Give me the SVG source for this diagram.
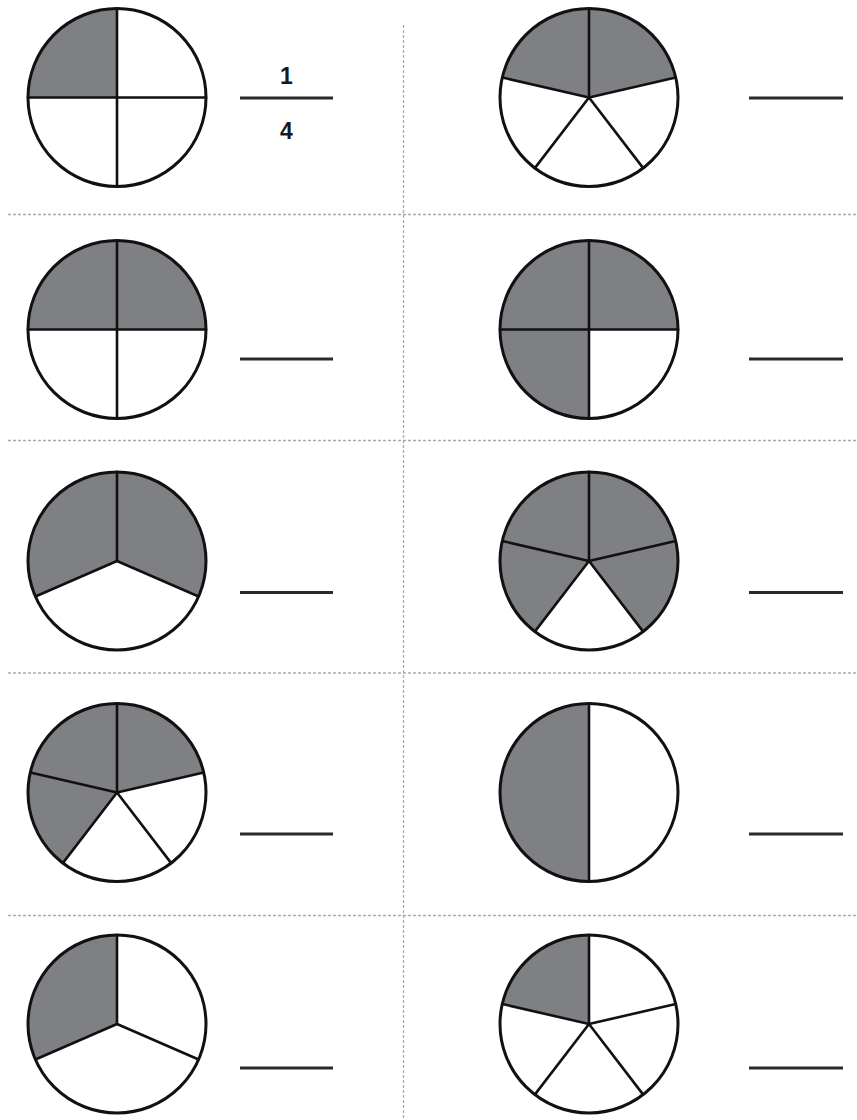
<svg xmlns="http://www.w3.org/2000/svg" width="857" height="1120" viewBox="0 0 857 1120">
<style>
.bg{fill:#fff}
.sh{fill:#7f8084;stroke:none}
.rim{fill:none;stroke:#111;stroke-width:3}
.sp{stroke:#111;stroke-width:2.6;stroke-linecap:round}
.ans{stroke:#2a2a2a;stroke-width:3}
.grid{stroke:#aaa;stroke-width:1.3;stroke-dasharray:3 2;fill:none}
.num{font-family:"Liberation Sans",Arial,sans-serif;font-weight:bold;font-size:23px;fill:#1a1a1a;text-anchor:middle}
</style>
<defs>
<circle id="disc" r="89" class="bg"/>
<circle id="ring" r="89" class="rim"/>
<g id="quarterSpokes" class="sp"><line x1="-89" y1="0" x2="89" y2="0"/><line x1="0" y1="-89" x2="0" y2="89"/></g>
<g id="thirdSpokes" class="sp"><line x1="0" y1="0" x2="0" y2="-89"/><line x1="0" y1="0" x2="81.6" y2="35.5"/><line x1="0" y1="0" x2="-81.6" y2="35.5"/></g>
<g id="fifthSpokes" class="sp"><line x1="0" y1="0" x2="0" y2="-89"/><line x1="0" y1="0" x2="86.7" y2="-20"/><line x1="0" y1="0" x2="54.2" y2="70.6"/><line x1="0" y1="0" x2="-54.2" y2="70.6"/><line x1="0" y1="0" x2="-86.7" y2="-20"/></g>
</defs>
<rect width="857" height="1120" fill="#fff"/>
<g id="grid" class="grid">
<line x1="8" y1="214.5" x2="857" y2="214.5"/>
<line x1="8" y1="440.5" x2="857" y2="440.5"/>
<line x1="8" y1="673" x2="857" y2="673"/>
<line x1="8" y1="915.5" x2="857" y2="915.5"/>
<line x1="403.5" y1="25" x2="403.5" y2="1120"/>
</g>
<g id="pie-1L" transform="translate(117,97.5)">
<use href="#disc"/>
<path class="sh" d="M0,0 L-89,0 A89,89 0 0 1 0,-89 Z"/>
<use href="#quarterSpokes"/><use href="#ring"/>
</g>
<g id="answer-1L">
<text class="num" x="286.5" y="83.5">1</text>
<line class="ans" x1="240" y1="98" x2="333" y2="98"/>
<text class="num" x="286.5" y="138.5">4</text>
</g>
<g id="pie-1R" transform="translate(589,97.5)">
<use href="#disc"/>
<path class="sh" d="M0,0 L-86.7,-20 A89,89 0 0 1 0,-89 Z"/>
<path class="sh" d="M0,0 L0,-89 A89,89 0 0 1 86.7,-20 Z"/>
<use href="#fifthSpokes"/><use href="#ring"/>
</g>
<g id="answer-1R"><line class="ans" x1="749" y1="98" x2="843" y2="98"/></g>
<g id="pie-2L" transform="translate(117,329.5)">
<use href="#disc"/>
<path class="sh" d="M-89,0 A89,89 0 0 1 89,0 Z"/>
<use href="#quarterSpokes"/><use href="#ring"/>
</g>
<g id="answer-2L"><line class="ans" x1="240" y1="359" x2="333" y2="359"/></g>
<g id="pie-2R" transform="translate(589,329.5)">
<use href="#disc"/>
<path class="sh" d="M-89,0 A89,89 0 0 1 89,0 Z"/>
<path class="sh" d="M0,0 L0,89 A89,89 0 0 1 -89,0 Z"/>
<use href="#quarterSpokes"/><use href="#ring"/>
</g>
<g id="answer-2R"><line class="ans" x1="749" y1="359" x2="843" y2="359"/></g>
<g id="pie-3L" transform="translate(117,561)">
<use href="#disc"/>
<path class="sh" d="M0,0 L-81.6,35.5 A89,89 0 1 1 81.6,35.5 Z"/>
<use href="#thirdSpokes"/><use href="#ring"/>
</g>
<g id="answer-3L"><line class="ans" x1="240" y1="592.5" x2="333" y2="592.5"/></g>
<g id="pie-3R" transform="translate(589,561)">
<use href="#disc"/>
<path class="sh" d="M0,0 L-54.2,70.6 A89,89 0 1 1 54.2,70.6 Z"/>
<use href="#fifthSpokes"/><use href="#ring"/>
</g>
<g id="answer-3R"><line class="ans" x1="749" y1="592.5" x2="843" y2="592.5"/></g>
<g id="pie-4L" transform="translate(117,792.5)">
<use href="#disc"/>
<path class="sh" d="M0,0 L-54.2,70.6 A89,89 0 1 1 86.7,-20 Z"/>
<use href="#fifthSpokes"/><use href="#ring"/>
</g>
<g id="answer-4L"><line class="ans" x1="240" y1="834" x2="333" y2="834"/></g>
<g id="pie-4R" transform="translate(589,792.5)">
<use href="#disc"/>
<path class="sh" d="M0,-89 A89,89 0 0 0 0,89 Z"/>
<line class="sp" x1="0" y1="-89" x2="0" y2="89"/><use href="#ring"/>
</g>
<g id="answer-4R"><line class="ans" x1="749" y1="834" x2="843" y2="834"/></g>
<g id="pie-5L" transform="translate(117,1024)">
<use href="#disc"/>
<path class="sh" d="M0,0 L-81.6,35.5 A89,89 0 0 1 0,-89 Z"/>
<use href="#thirdSpokes"/><use href="#ring"/>
</g>
<g id="answer-5L"><line class="ans" x1="240" y1="1068" x2="333" y2="1068"/></g>
<g id="pie-5R" transform="translate(589,1024)">
<use href="#disc"/>
<path class="sh" d="M0,0 L-86.7,-20 A89,89 0 0 1 0,-89 Z"/>
<use href="#fifthSpokes"/><use href="#ring"/>
</g>
<g id="answer-5R"><line class="ans" x1="749" y1="1068" x2="843" y2="1068"/></g>
</svg>
